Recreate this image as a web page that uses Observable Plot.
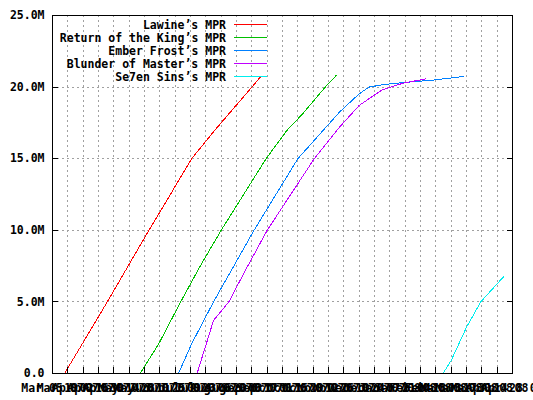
<!DOCTYPE html>
<html>
<head>
<meta charset="utf-8">
<script src="https://cdn.jsdelivr.net/npm/d3@7"></script>
<script src="https://cdn.jsdelivr.net/npm/@observablehq/plot@0.6"></script>
<style>
  html, body { margin: 0; padding: 0; background: white; overflow: hidden; }
</style>
</head>
<body>
<div id="chart"></div>
<script>
// Series names and colours
const seriesNames = ["Lawine’s MPR", "Return of the King’s MPR", "Ember Frost’s MPR", "Blunder of Master’s MPR", "Se7en Sins’s MPR"];
const seriesColors = ["#ff0000", "#00c000", "#0080ff", "#c000ff", "#00eeee"];

// Days since first tick (Mar 05), values in millions
const lawineDays = [11, 29, 50, 88, 108, 127, 148, 161, 182, 190];
const lawineMPR  = [0, 2.3, 5, 10, 12.55, 15, 16.97, 18.13, 20, 20.72];
const rotkDays = [80, 97, 117, 135, 154, 195, 214, 228, 249, 259];
const rotkMPR  = [0, 2.07, 5, 7.52, 10, 15, 16.97, 18.1, 20, 20.81];
const emberDays = [115, 127, 147, 184, 224, 262, 280, 289, 303, 318, 349, 375];
const emberMPR  = [0, 2.07, 5, 10, 15, 18.25, 19.53, 20.0, 20.18, 20.3, 20.5, 20.74];
const blunderDays = [132, 147, 161, 176, 196, 239, 262, 280, 301, 320, 341];
const blunderMPR  = [0, 3.7, 5, 7.19, 10, 15, 17.2, 18.72, 19.81, 20.27, 20.58];
const sinsDays = [357, 364, 378, 391, 412];
const sinsMPR  = [0.05, 0.91, 3.23, 5, 6.77];

// Tick labels
const xTickLabels = ["Mar 05 07","Mar 19 07","Apr 02 07","Apr 16 07","Apr 30 07","May 14 07","May 28 07","Jun 11 07","Jun 25 07","Jul 09 07","Jul 23 07","Aug 06 07","Aug 20 07","Sep 03 07","Sep 17 07","Oct 01 07","Oct 15 07","Oct 29 07","Nov 12 07","Nov 26 07","Dec 10 07","Dec 24 07","Jan 07 08","Jan 21 08","Feb 04 08","Feb 18 08","Mar 03 08","Mar 17 08","Mar 31 08","Apr 14 08","Apr 28 08"];
const xTickStep = 14;
const yTickValues = [0, 5, 10, 15, 20, 25];
const yTickLabels = ["0.0", "5.0M", "10.0M", "15.0M", "20.0M", "25.0M"];

const allDays = [lawineDays, rotkDays, emberDays, blunderDays, sinsDays];
const allVals = [lawineMPR, rotkMPR, emberMPR, blunderMPR, sinsMPR];
const rows = [];
seriesNames.forEach((name, s) => {
  allDays[s].forEach((d, i) => rows.push({series: name, day: d, value: allVals[s][i] * 1e6}));
});

const xTicks = xTickLabels.map((_, i) => i * xTickStep);
const yTicks = yTickValues.map(v => v * 1e6);
const gridStyle = {stroke: "#a0a0a0", strokeOpacity: 1, strokeDasharray: "2,3", strokeWidth: 1, shapeRendering: "crispEdges"};

const chart = Plot.plot({
  width: 533,
  height: 400,
  marginLeft: 52,
  marginTop: 15,
  marginRight: 21,
  marginBottom: 27,
  style: {fontFamily: "'DejaVu Sans Mono', monospace", fontSize: "11.5px", fontWeight: "bold", background: "white", color: "black", overflow: "hidden"},
  x: {domain: [0, xTicks[xTicks.length - 1]], label: null},
  y: {domain: [0, 25e6], label: null},
  color: {domain: seriesNames, range: seriesColors},
  marks: [
    Plot.gridX(xTicks.slice(1, -1), gridStyle),
    Plot.gridY(yTicks.slice(1, -1), gridStyle),
    Plot.line(rows, {x: "day", y: "value", z: "series", stroke: "series", strokeWidth: 1, shapeRendering: "crispEdges"}),
    Plot.frame({stroke: "black", strokeWidth: 1, shapeRendering: "crispEdges"}),
    Plot.axisX(xTicks, {anchor: "bottom", tickSize: -6, tickPadding: 16, label: null, shapeRendering: "crispEdges",
      tickFormat: d => xTickLabels[Math.round(d / xTickStep)], fill: "black", stroke: "black"}),
    Plot.axisY(yTicks, {anchor: "left", tickSize: -6, tickPadding: 14, label: null, shapeRendering: "crispEdges",
      tickFormat: d => yTickLabels[yTicks.indexOf(d)], fill: "black", stroke: "black"}),
    Plot.axisY(yTicks, {anchor: "right", tickSize: -6, label: null, shapeRendering: "crispEdges",
      tickFormat: () => "", stroke: "black"})
  ]
});
document.getElementById("chart").appendChild(chart);

// Legend inside the plot area, top-left
const svg = d3.select(chart);
const legend = svg.append("g").attr("transform", "translate(226,24.5)");
seriesNames.forEach((name, i) => {
  const g = legend.append("g").attr("transform", `translate(0,${i * 13})`);
  g.append("text").attr("text-anchor", "end").attr("dy", "0.35em").attr("fill", "black").text(name);
  g.append("line").attr("x1", 8).attr("x2", 41).attr("y1", 0).attr("y2", 0)
    .attr("stroke", seriesColors[i]).attr("stroke-width", 1).attr("shape-rendering", "crispEdges");
});
</script>
</body>
</html>
